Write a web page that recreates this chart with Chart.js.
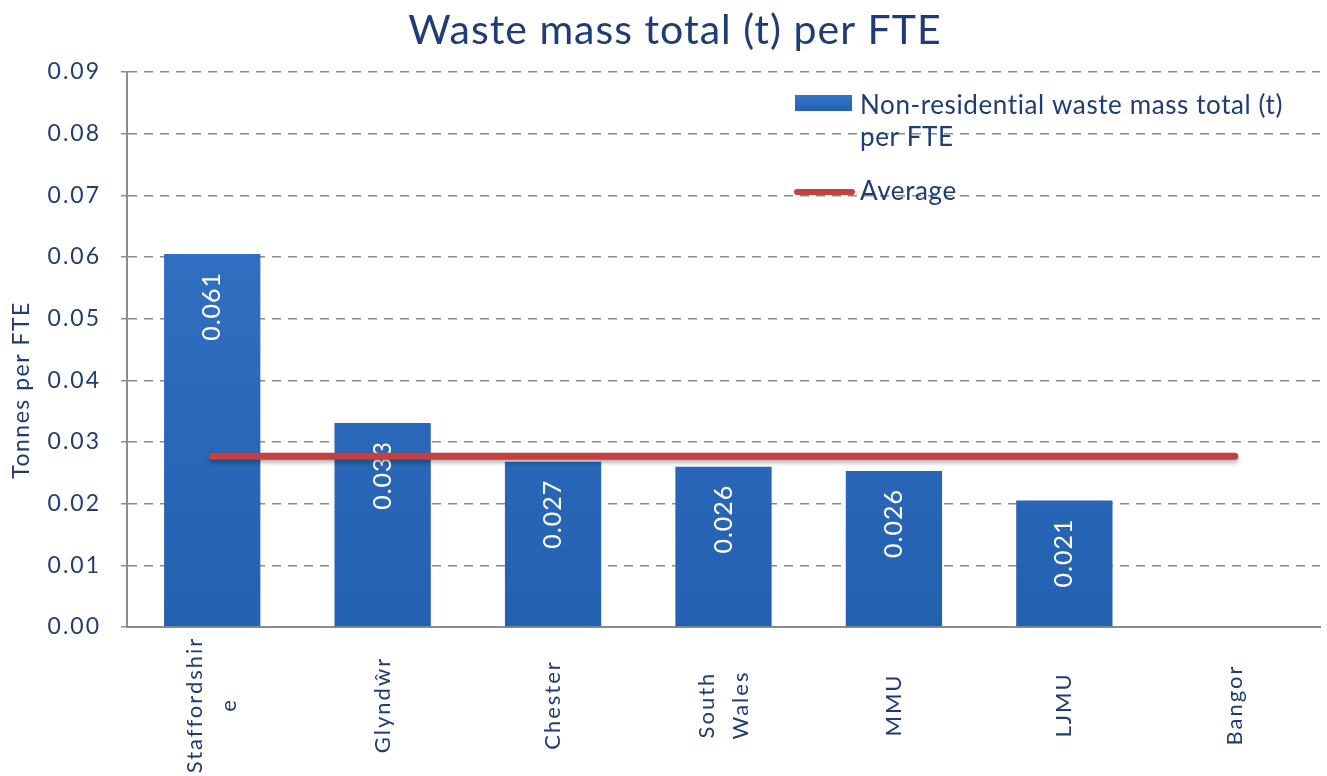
<!DOCTYPE html>
<html><head><meta charset="utf-8">
<script src="https://cdn.jsdelivr.net/npm/chart.js@4/dist/chart.umd.min.js"></script>
<style>html,body{margin:0;padding:0;background:#fff}#wrap{width:1327px;height:776px;position:relative}</style>
</head><body><div id="wrap"><canvas id="c" width="1327" height="776"></canvas></div>
<script>
// ---- data ----
const categories = [['Staffordshir', 'e'], 'Glyndŵr', 'Chester', ['South', 'Wales'], 'MMU', 'LJMU', 'Bangor'];
const wasteValues = [0.0605, 0.0331, 0.0268, 0.0260, 0.0253, 0.0205, 0];
const valueLabels = ['0.061', '0.033', '0.027', '0.026', '0.026', '0.021', ''];
const averageValue = 0.0277;
const averageValues = [averageValue, averageValue, averageValue, averageValue, averageValue, averageValue, averageValue];
const yTickValues = [0, 0.01, 0.02, 0.03, 0.04, 0.05, 0.06, 0.07, 0.08, 0.09];
const chartTitle = 'Waste mass total (t) per FTE';
const yAxisTitle = 'Tonnes per FTE';
const legendBarText = ['Non-residential waste mass total (t)', 'per FTE'];
const legendLineText = 'Average';

// ---- style ----
const NAVY = '#1f3c74';
const FONT = 'Lato';
const GRID = '#8a8a8a';
const RED = '#c73e3e';

const helpers = {
  id: 'helpers',
  beforeDraw(chart) {
    chart.ctx.letterSpacing = '2px';
  },
  beforeDatasetDraw(chart, args) {
    if (args.index === 1) {
      const c = chart.ctx;
      c.save();
      c.shadowColor = 'rgba(0,0,0,0.3)';
      c.shadowBlur = 4;
      c.shadowOffsetY = 3;
    }
  },
  afterDatasetDraw(chart, args) {
    const c = chart.ctx;
    if (args.index === 1) { c.restore(); return; }
    if (args.index !== 0) return;
    const meta = chart.getDatasetMeta(0);
    c.save();
    c.letterSpacing = '1px';
    c.fillStyle = '#ffffff';
    c.font = '25px ' + FONT;
    c.textAlign = 'right';
    c.textBaseline = 'middle';
    meta.data.forEach((el, i) => {
      const t = valueLabels[i];
      if (!t) return;
      c.save();
      c.translate(el.x, el.y + 18);
      c.rotate(-Math.PI / 2);
      c.fillText(t, 0, 0);
      c.restore();
    });
    c.restore();
  },
  afterDraw(chart) {
    const c = chart.ctx;
    const xs = chart.scales.x;
    // title
    c.save();
    c.letterSpacing = '1px';
    c.fillStyle = NAVY;
    c.font = '41px ' + FONT;
    c.textAlign = 'center';
    c.textBaseline = 'alphabetic';
    c.fillText(chartTitle, 675, 44);
    c.restore();
    // y axis title
    c.save();
    c.letterSpacing = '1.5px';
    c.fillStyle = NAVY;
    c.font = '23px ' + FONT;
    c.textAlign = 'center';
    c.textBaseline = 'middle';
    c.translate(22, 390);
    c.rotate(-Math.PI / 2);
    c.fillText(yAxisTitle, 0, 0);
    c.restore();
    // x labels (rotated, centred)
    c.save();
    c.letterSpacing = '2px';
    c.fillStyle = NAVY;
    c.font = '22px ' + FONT;
    c.textAlign = 'center';
    c.textBaseline = 'middle';
    categories.forEach((lab, i) => {
      const lines = Array.isArray(lab) ? lab : [lab];
      const x0 = xs.getPixelForTick(i);
      lines.forEach((ln, j) => {
        const off = (j - (lines.length - 1) / 2) * 34;
        c.save();
        c.translate(x0 + off, 705);
        c.rotate(-Math.PI / 2);
        c.fillText(ln, 0, 0);
        c.restore();
      });
    });
    c.restore();
    // legend
    c.save();
    c.letterSpacing = '0.6px';
    const grad = c.createLinearGradient(0, 95, 0, 111);
    grad.addColorStop(0, '#3474c6'); grad.addColorStop(1, '#2561b1');
    c.fillStyle = grad;
    c.fillRect(795, 95, 57, 16);
    c.strokeStyle = RED;
    c.lineWidth = 6;
    c.lineCap = 'round';
    c.beginPath(); c.moveTo(797, 192); c.lineTo(852, 192); c.stroke();
    c.fillStyle = NAVY;
    c.font = '26px ' + FONT;
    c.textAlign = 'left';
    c.textBaseline = 'alphabetic';
    c.fillText(legendBarText[0], 860, 114);
    c.fillText(legendBarText[1], 860, 146);
    c.fillText(legendLineText, 860, 200);
    c.restore();
  }
};

new Chart(document.getElementById('c'), {
  type: 'bar',
  data: {
    labels: categories,
    datasets: [
      {
        type: 'bar',
        label: 'Non-residential waste mass total (t) per FTE',
        data: wasteValues,
        order: 1,
        backgroundColor: (ctx) => {
          const a = ctx.chart.chartArea;
          if (!a) return '#2e6cbd';
          const g = ctx.chart.ctx.createLinearGradient(0, a.top, 0, a.bottom);
          g.addColorStop(0, '#3676c9');
          g.addColorStop(1, '#2460b0');
          return g;
        },
        borderWidth: 0,
        categoryPercentage: 1,
        barPercentage: 0.565
      },
      {
        type: 'line',
        label: 'Average',
        data: averageValues,
        order: 0,
        borderColor: RED,
        borderWidth: 7,
        borderCapStyle: 'round',
        pointRadius: 0,
        fill: false,
        tension: 0
      }
    ]
  },
  options: {
    responsive: false,
    animation: false,
    devicePixelRatio: 1,
    layout: { padding: { top: 72, right: 7, left: 0, bottom: 0 } },
    plugins: {
      legend: { display: false },
      title: { display: false },
      tooltip: { enabled: false }
    },
    scales: {
      x: {
        offset: true,
        ticks: { display: false },
        grid: { display: false },
        border: { display: true, color: '#8c8c8c', width: 2 },
        afterFit: (s) => { s.height = 149; }
      },
      y: {
        min: 0,
        max: 0.09,
        afterBuildTicks: (s) => { s.ticks = yTickValues.map(v => ({ value: v })); },
        ticks: {
          callback: (v) => Number(v).toFixed(2),
          color: NAVY,
          font: { family: FONT, size: 23 },
          padding: 20
        },
        grid: {
          color: GRID,
          lineWidth: 1.5,
          tickLength: 6,
          tickColor: '#8c8c8c',
          tickBorderDash: []
        },
        border: { display: true, color: '#8c8c8c', width: 2, dash: [9, 7] },
        title: { display: false },
        afterFit: (s) => { s.width = 127; }
      }
    }
  },
  plugins: [helpers]
});
</script>
</body></html>
